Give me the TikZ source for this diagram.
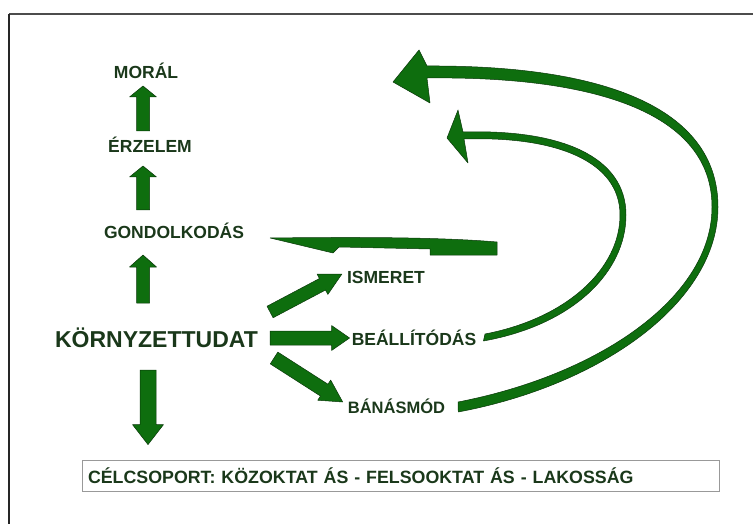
\documentclass[tikz,border=0pt]{standalone}
\usepackage{fontspec}
\setmainfont{Liberation Sans}
\usetikzlibrary{calc}

\definecolor{arrowgreen}{RGB}{14,110,14}
\definecolor{arrowedge}{RGB}{10,55,10}
\definecolor{textgreen}{RGB}{26,56,26}

\newcommand{\blockarrow}[5]{%
	\coordinate (ba) at (#1);
	\coordinate (bb) at (#2);
	\coordinate (bh) at ($(bb)!#5!(ba)$);
	\draw[blockarr] ($(ba)!#3!90:(bb)$) -- ($(bh)!#3!90:(bb)$) -- ($(bh)!#4!90:(bb)$) -- (bb)
		-- ($(bh)!#4!-90:(bb)$) -- ($(bh)!#3!-90:(bb)$) -- ($(ba)!#3!-90:(bb)$) -- cycle;
}

\begin{document}
\begin{tikzpicture}[x=1pt, y=1pt,
	lbl/.style={anchor=base, inner sep=0pt, text=textgreen, font=\bfseries\fontsize{17.5}{20}\selectfont},
	blockarr/.style={fill=arrowgreen, draw=arrowedge, line width=0.5pt, line join=round}]
	\useasboundingbox (0,0) rectangle (753,-524);
	\draw[line width=1.5pt, black!70] (9,-14) -- (753,-14);
	\draw[line width=1.5pt, black!85] (9,-14) -- (9,-524);

	\node[lbl] (moral) at (146,-79) {MORÁL};
	\node[lbl] (erz) at (150,-153) {ÉRZELEM};
	\node[lbl] (gond) at (174,-238) {GONDOLKODÁS};
	\node[lbl, font=\bfseries\fontsize{23}{26}\selectfont] (kt) at (156.5,-347) {KÖRNYZETTUDAT};
	\node[lbl] (ism) at (386,-283) {ISMERET};
	\node[lbl] (beall) at (414,-345) {BEÁLLÍTÓDÁS};
	\node[lbl, font=\bfseries\fontsize{16.5}{20}\selectfont] (banas) at (396.5,-413) {BÁNÁSMÓD};
	\node[draw=black!40, line width=0.8pt, text width=625pt, inner xsep=6pt, minimum height=31pt, align=left,
		text=textgreen, font=\bfseries\fontsize{17.8}{20}\selectfont] (target) at (400.5,-475.5)
		{CÉLCSOPORT: KÖZOKTAT ÁS - FELSOOKTAT ÁS - LAKOSSÁG};

	\coordinate (axis) at (143,0);
	\blockarrow{$(axis |- erz.base)+(0,22)$}{$(axis |- moral.base)+(0,-7)$}{6.5pt}{13.5pt}{11pt}
	\blockarrow{$(axis |- gond.base)+(0,28)$}{$(axis |- erz.base)+(0,-13)$}{6.5pt}{13.5pt}{11pt}
	\blockarrow{$(axis |- kt.base)+(0,44)$}{$(axis |- gond.base)+(0,-17)$}{6.5pt}{13.5pt}{12pt}
	\blockarrow{$(kt.base)+(-8.5,-23)$}{$(target.north -| kt.base)+(-8.5,15)$}{8pt}{15.5pt}{20pt}

	\blockarrow{$(kt.base east)+(12,35)$}{$(ism.base west)+(-5,9)$}{6.5pt}{11.5pt}{22pt}
	\blockarrow{$(kt.base east)+(12,9)$}{$(beall.base west)+(-2,7)$}{7pt}{12.5pt}{18pt}
	\blockarrow{$(kt.base east)+(16,-11)$}{$(banas.base west)+(-5,11)$}{7pt}{12pt}{22pt}

	\coordinate (gondtip) at ($(gond.base east)+(26,0)$);
	\draw[blockarr] (gondtip) .. controls (350,-237) and (440,-237) .. (497,-242) -- (497,-255)
		-- (430,-255) -- (430,-249) -- (339,-247) -- (333,-253) -- cycle;

	\coordinate (erztip) at (447,-138);
	\draw[blockarr] ($(beall.base east)+(7,4)$) .. controls (573,-325) and (626,-272) .. (626,-215)
		.. controls (626,-157) and (562,-129) .. (463,-132) -- (458,-110) -- (erztip) -- (468,-163) -- (464,-139)
		.. controls (558,-136) and (620,-162) .. (620,-215) .. controls (620,-268) and (568,-318) .. (485,-334) -- cycle;

	\coordinate (moraltip) at (393,-82);
	\draw[blockarr] ($(banas.base east)+(13,1)$) .. controls (602,-385) and (718,-302) .. (718,-207)
		.. controls (718,-106) and (600,-65) .. (427,-66) -- (419,-50) -- (moraltip) -- (430,-103) -- (427,-78)
		.. controls (598,-76) and (712,-114) .. (712,-207) .. controls (712,-298) and (598,-375) .. (458,-402) -- cycle;
\end{tikzpicture}
\end{document}
